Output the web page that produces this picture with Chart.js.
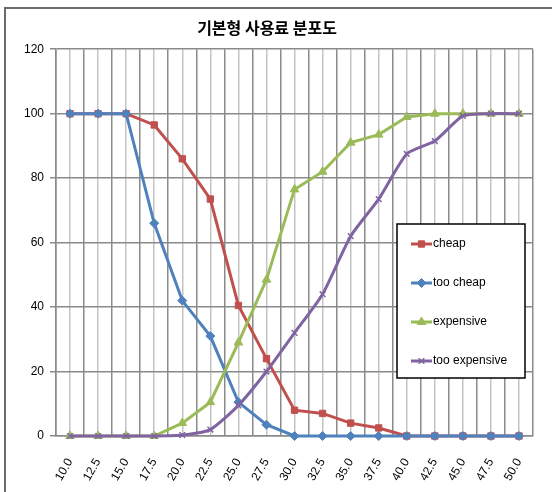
<!DOCTYPE html>
<html>
<head>
<meta charset="utf-8">
<script src="https://cdn.jsdelivr.net/npm/chart.js@4"></script>
<style>
  html, body { margin: 0; padding: 0; background: #fff; }
  #wrap { position: relative; width: 552px; height: 492px; overflow: hidden; }
  #frame { position: absolute; left: 4px; top: 7px; width: 600px; height: 600px;
           border-left: 2px solid #6b6b6b; border-top: 2px solid #6b6b6b; }
  #c { position: absolute; left: 0; top: 0; }
</style>
</head>
<body>
<div id="wrap">
  <div id="frame"></div>
  <canvas id="c" width="552" height="492"></canvas>
</div>
<script>
// 데이터
const prices = ["10.0", "12.5", "15.0", "17.5", "20.0", "22.5", "25.0", "27.5", "30.0",
  "32.5", "35.0", "37.5", "40.0", "42.5", "45.0", "47.5", "50.0"];
const cheap = [100, 100, 100, 96.5, 86, 73.5, 40.5, 24, 8, 7, 4, 2.5, 0, 0, 0, 0, 0];
const tooCheap = [100, 100, 100, 66, 42, 31, 10.5, 3.5, 0, 0, 0, 0, 0, 0, 0, 0, 0];
const expensive = [0, 0, 0, 0, 4, 10.5, 29, 48.5, 76.5, 82, 91, 93.5, 99, 100, 100, 100, 100];
const tooExpensive = [0, 0, 0, 0, 0.3, 2, 9.5, 20, 32, 44, 62, 73.5, 87.5, 91.5, 99.3, 100, 100];
const yTicks = [0, 20, 40, 60, 80, 100, 120];

const font = "'Liberation Sans', Arial, sans-serif";

function series(label, data, color, style, radius, order, tension) {
  return {
    label: label,
    data: data,
    borderColor: color,
    backgroundColor: color,
    borderWidth: 3,
    pointStyle: style,
    pointRadius: radius,
    pointBorderWidth: style === "crossRot" ? 1.5 : 1,
    pointBorderColor: color,
    pointBackgroundColor: color,
    tension: tension || 0,
    clip: false,
    order: order
  };
}

// 범례 박스 (차트 안쪽)
const boxLegend = {
  id: "boxLegend",
  afterDatasetsDraw(chart) {
    const ctx = chart.ctx;
    const x0 = 397, y0 = 224, w = 128, h = 154;
    ctx.save();
    ctx.fillStyle = "#fff";
    ctx.fillRect(x0, y0, w, h);
    ctx.strokeStyle = "#000";
    ctx.lineWidth = 1.5;
    ctx.strokeRect(x0, y0, w, h);
    const rows = [244, 283, 322, 361];
    chart.data.datasets.forEach((ds, i) => {
      const y = rows[i];
      ctx.strokeStyle = ds.borderColor;
      ctx.fillStyle = ds.borderColor;
      ctx.lineWidth = 3;
      ctx.beginPath();
      ctx.moveTo(411, y);
      ctx.lineTo(432, y);
      ctx.stroke();
      ctx.lineWidth = ds.pointBorderWidth;
      Chart.helpers.drawPoint(ctx, {
        pointStyle: ds.pointStyle, radius: ds.pointRadius, rotation: 0,
        borderWidth: ds.pointBorderWidth
      }, 421.5, y);
      ctx.fillStyle = "#000";
      ctx.font = "12px " + font;
      ctx.textBaseline = "middle";
      ctx.textAlign = "left";
      ctx.fillText(ds.label, 433, y);
    });
    ctx.restore();
  }
};

new Chart(document.getElementById("c"), {
  type: "line",
  data: {
    labels: prices,
    datasets: [
      series("cheap", cheap, "#C0504D", "rect", 4.5, 4),
      series("too cheap", tooCheap, "#4F81BD", "rectRot", 4.5, 3),
      series("expensive", expensive, "#9BBB59", "triangle", 5, 2),
      series("too expensive", tooExpensive, "#8064A2", "crossRot", 4, 1, 0.2)
    ]
  },
  options: {
    responsive: false,
    animation: false,
    layout: { padding: { left: 0, right: 18, top: 0, bottom: 0 } },
    plugins: {
      legend: { display: false },
      tooltip: { enabled: false },
      title: {
        display: true,
        text: "기본형 사용료 분포도",
        color: "#000",
        font: { family: "'Noto Sans CJK KR', sans-serif", size: 16, weight: "bold" },
        padding: { top: 18, bottom: 12 }
      }
    },
    scales: {
      x: {
        type: "category",
        offset: true,
        grid: { offset: true, color: "#8a8a8a", lineWidth: 1.5, drawTicks: false },
        border: { color: "#8a8a8a", width: 1.5 },
        ticks: {
          color: "#000", font: { family: font, size: 12 },
          minRotation: 60, maxRotation: 60, padding: 20, autoSkip: false
        },
        afterFit(scale) { scale.height = 56; }
      },
      x2: {
        type: "category",
        labels: prices,
        position: "bottom",
        offset: true,
        display: true,
        grid: { offset: false, color: "#c4c4c4", lineWidth: 1.5, drawTicks: false },
        border: { display: false },
        ticks: { display: false },
        afterFit(scale) { scale.height = 0; }
      },
      y: {
        min: 0,
        max: 120,
        afterBuildTicks(scale) { scale.ticks = yTicks.map(v => ({ value: v })); },
        grid: { color: "#8a8a8a", lineWidth: 1.5, tickLength: 6 },
        border: { color: "#8a8a8a", width: 1.5 },
        ticks: { color: "#000", font: { family: font, size: 12 }, padding: 6 },
        afterFit(scale) { scale.width = 56; }
      }
    }
  },
  plugins: [boxLegend]
});
</script>
</body>
</html>
